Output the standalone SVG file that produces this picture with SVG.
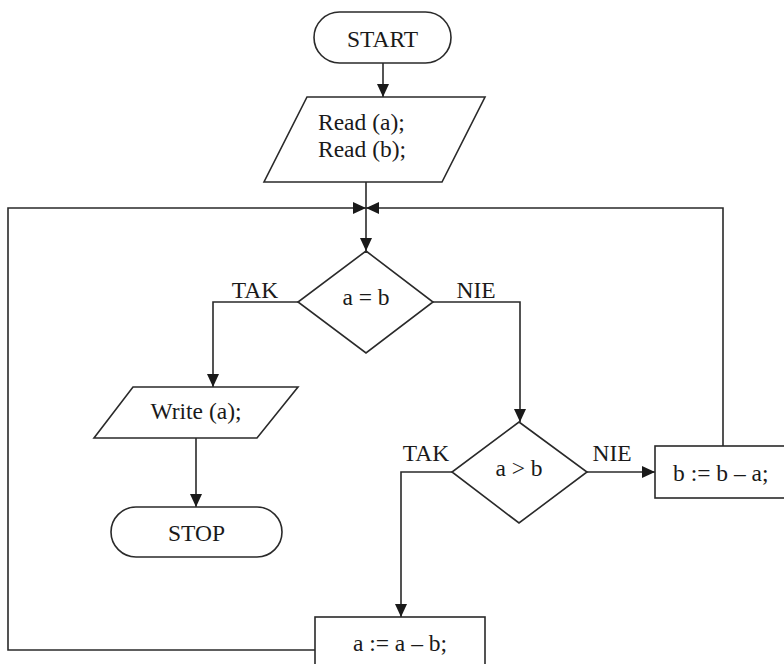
<svg xmlns="http://www.w3.org/2000/svg" width="784" height="664" viewBox="0 0 784 664">
<defs>
<marker id="arr" markerUnits="userSpaceOnUse" markerWidth="13" markerHeight="12" viewBox="0 0 13 12" refX="13" refY="6" orient="auto">
<path d="M0,0 L13,6 L0,12 z" fill="#1a1a1a"/>
</marker>
<style>
.s{fill:#fff;stroke:#2a2a2a;stroke-width:1.6}
.c{fill:none;stroke:#2a2a2a;stroke-width:1.6}
text{font-family:"Liberation Serif","Times New Roman",serif;font-size:23.5px;fill:#1a1a1a}
.m{text-anchor:middle}
</style>
</defs>
<rect width="784" height="664" fill="#fff"/>
<g id="connectors">
<path class="c" d="M383,63 V97" marker-end="url(#arr)"/>
<path class="c" d="M366,182 V251" marker-end="url(#arr)"/>
<path class="c" d="M315,650 H8 V208 H366" marker-end="url(#arr)"/>
<path class="c" d="M723,446 V208 H366" marker-end="url(#arr)"/>
<path class="c" d="M298,302 H213 V387" marker-end="url(#arr)"/>
<path class="c" d="M433,302 H520 V422" marker-end="url(#arr)"/>
<path class="c" d="M452,472 H401 V617" marker-end="url(#arr)"/>
<path class="c" d="M587,472 H655" marker-end="url(#arr)"/>
<path class="c" d="M196,438 V507" marker-end="url(#arr)"/>
<text x="255" y="298" class="m">TAK</text>
<text x="476" y="298" class="m">NIE</text>
<text x="426" y="461" class="m">TAK</text>
<text x="612" y="461" class="m">NIE</text>
</g>
<g id="start">
<rect class="s" x="314" y="12" width="137" height="51" rx="25.5"/>
<text x="382.5" y="47" class="m">START</text>
</g>
<g id="read">
<polygon class="s" points="307,97 485,97 442,182 264,182"/>
<text x="318" y="130">Read (a);</text>
<text x="318" y="157">Read (b);</text>
</g>
<g id="cond1">
<polygon class="s" points="366,251 433,302 366,353 298,302"/>
<text x="366" y="305" class="m">a = b</text>
</g>
<g id="write">
<polygon class="s" points="133,387 298,387 257,438 94,438"/>
<text x="196" y="419" class="m">Write (a);</text>
</g>
<g id="stop">
<rect class="s" x="111" y="507" width="171" height="50" rx="25"/>
<text x="196.5" y="541" class="m">STOP</text>
</g>
<g id="cond2">
<polygon class="s" points="519,422 587,472 519,523 452,472"/>
<text x="519" y="476" class="m">a &gt; b</text>
</g>
<g id="assignb">
<rect class="s" x="655" y="446" width="140" height="52"/>
<text x="673" y="481">b := b – a;</text>
</g>
<g id="assigna">
<rect class="s" x="315" y="617" width="170" height="60"/>
<text x="400" y="651" class="m">a := a – b;</text>
</g>
</svg>
